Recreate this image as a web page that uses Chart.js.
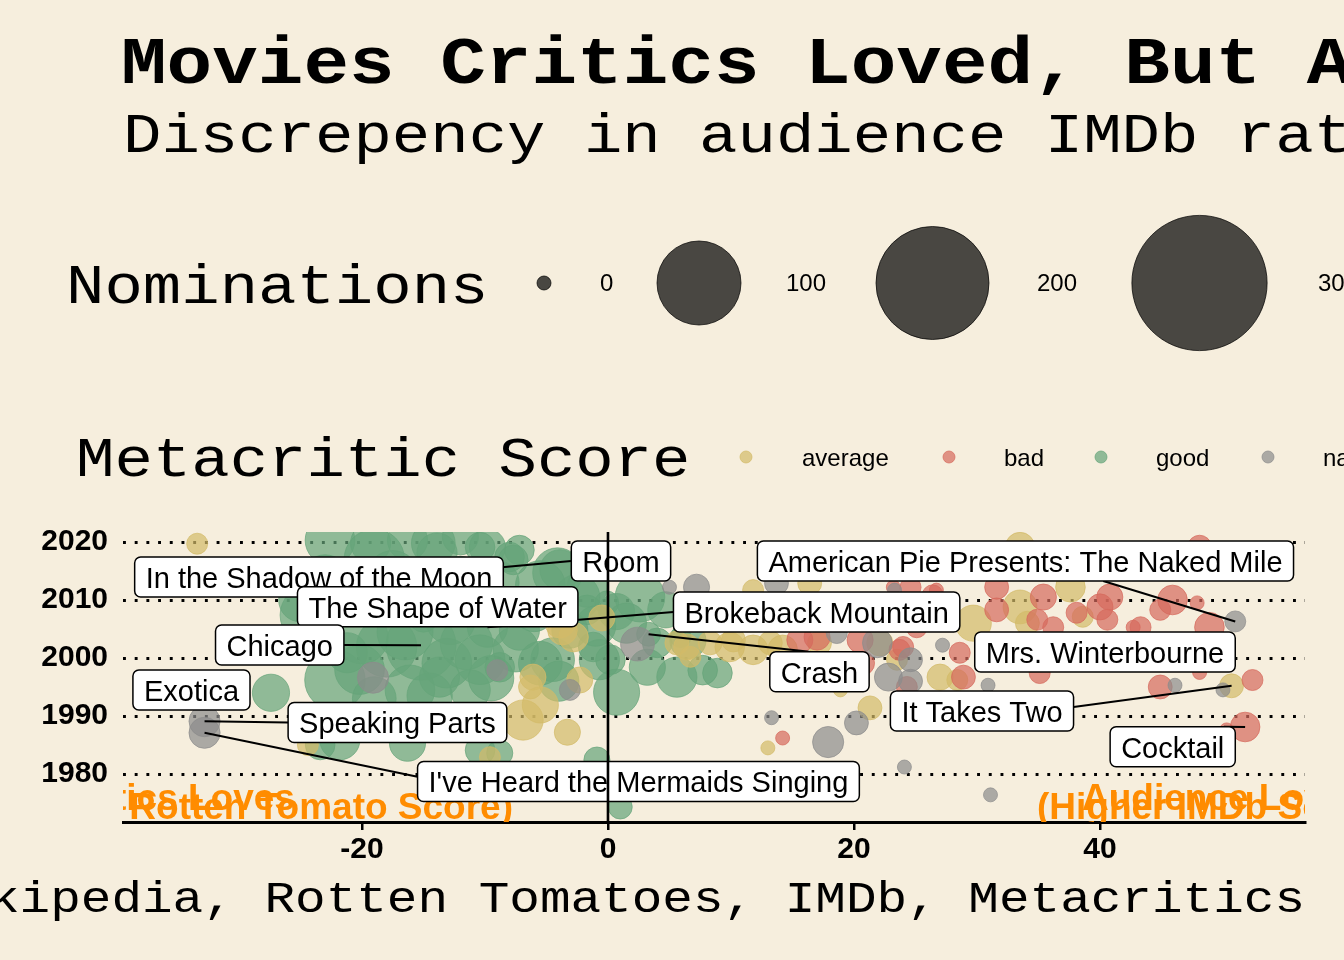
<!DOCTYPE html>
<html><head><meta charset="utf-8">
<script src="https://cdn.jsdelivr.net/npm/chart.js@4.4.0/dist/chart.umd.min.js"></script>
<style>html,body{margin:0;padding:0;background:#F6EEDD;overflow:hidden}canvas{display:block}</style>
</head><body><canvas id="c" width="1344" height="960"></canvas>
<script>
// ---------- DATA ----------
// x = IMDb score*10 - Rotten Tomato score, y = release year, n = nominations
const goodDiff = [-27.4,-24.2,-22.2,-22.6,-19.3,-16.3,-14.2,-12.0,-9.8,-8.0,-13.9,-10.4,-3.9,-12,-4.1,-1.7,0.7,2.6,-3.1,-1.7,-0.1,-1.2,0.2,-0.7,4.0,5.9,-4.5,-5.5,0.7,5.6,3.2,8.9,7.7,3.3,-15.2,-18.0,-21.2,-13.1,-10.4,-8.8,-13.7,-16.3,-21.8,-23.4,-10.4,-8.8,-0.9,1.0,-7.2,-7.7,-9.8,-15,-19,-12.8,-7.2,-20.2,-16.1,-11.2,4.7,
  -20.0,-16.5,-11.5,-7.5,-9.5,-14.5,-19.0,-4.0,-2.5,-5.5,-9.0,-17.5,-23.0,-25.0,-1.0,1.5,6.5,-6.0];
const goodYear = [1994.0,2007.4,1996.2,2020.3,2019.8,2020.3,2019.8,2020.9,2019.1,2017.4,2018.1,2019.1,2015.2,2015,2014.7,2012.2,2008.0,2010.5,2004.8,2008.3,2009.5,2001.9,1999.7,1999.7,2002.6,2003.6,1999.7,1999.1,1994.1,1996.7,1998.4,1997.4,1997.9,2004.1,2002.2,2001.9,2000.9,1999.1,1999.7,1998.4,1996.7,1985.3,1985.9,1985.0,1984.1,1983.6,1982.4,1974.3,2018.6,2016.9,2005.3,2007,2017,2006.6,2004.8,1998.0,1994.5,1994.5,2008.3,
  2003.5,2004.5,2002.5,2001.5,1996.5,1993.5,1993.0,1996.0,2010.5,2012.5,2013.0,2014.0,2013.5,2010.0,2005.5,2006.0,2003.0,2008.0];
const goodNoms = [11,44,44,26,14,14,18,10,10,5,14,5,14,5,26,14,10,26,10,5,2,5,5,14,5,1,18,18,21,14,10,5,5,2,64,44,14,26,26,5,14,10,14,5,5,3,3,2,5,5,14,5,44,26,14,26,26,14,10,
  30,36,30,20,20,20,18,14,20,26,18,30,26,18,14,14,10,14];

const avgDiff = [-33.4,-24.4,-0.5,-3.7,-3.9,-2.8,-2.3,-6.1,-6.3,-6.9,-5.5,-3.3,-9.6,5.6,6.4,6.7,8.3,10.2,9.9,11.8,13.2,14.2,11.8,16.4,17.2,22.1,23.5,18.9,21.3,13.0,33.5,33.5,37.6,34.1,29.7,27.0,28.4,38.6,50.7];
const avgYear = [2019.7,1985.0,2006.9,2004.8,2006.0,2003.6,1996.2,1996.7,1995.0,1989.3,1991.9,1987.2,1982.9,2002.6,2001.9,2000.2,2002.6,2003.1,2001.9,2001.4,2002.6,2001.4,2011.7,2012.9,2002.6,2002.6,1999.7,1994.5,1991.4,1984.5,2019.1,2008.8,2012.2,2006.0,2006.0,1996.7,1996.2,2007.1,1995.2];
const avgNoms = [1,1,3,5,5,5,3,3,2,14,10,3,1,2,3,1,2,2,5,5,2,5,1,2,2,3,1,0,2,0,5,8,5,2,10,3,1,1,2];

const badDiff = [14.2,15.6,17.0,20.5,24.0,20.7,23.2,24.6,26.7,25.1,23.7,24.3,28.6,28.9,31.6,31.6,35.4,34.9,36.2,38.1,40.0,40.6,40.8,35.1,45.9,44.9,47.9,48.9,43.3,48.1,48.1,44.9,52.4,51.8,50.3,42.7,26.4];
const badYear = [1986.2,2003.1,2003.6,2003.1,2001.9,1999.1,2012.2,2012.2,2011.7,2005.3,2001.4,1995.0,2000.9,1996.7,2012.2,2008.3,2010.5,2006.6,2005.3,2007.8,2008.8,2006.6,2010.5,1997.4,2010.0,2008.3,2009.5,2005.3,2005.3,2019.1,1997.5,1995.0,1996.2,1988.1,1987.6,2005.3,2010.8];
const badNoms = [0,3,3,3,1,2,0,1,0,1,1,1,1,2,2,2,3,1,1,1,3,1,3,1,5,1,0,5,1,2,0,2,1,5,0,0,1];

const naDiff = [-32.8,-32.8,-19.1,-9.0,-3.1,2.4,5.0,7.2,13.7,23.3,18.6,22.8,24.6,21.9,24.6,13.3,20.2,17.9,24.1,27.2,30.9,31.1,51.0,46.1,50.0];
const naYear = [1989.1,1987.1,1996.6,1997.9,1994.5,2002.4,2012.2,2012.2,2012.9,2011.7,2004.3,1996.7,1996.0,2002.6,1999.7,1989.7,1988.8,1985.5,1981.2,2002.2,1995.3,1976.4,2006.3,1995.3,1994.5];
const naNoms = [6,6,6,1,1,8,0,3,2,0,1,4,2,5,2,0,2,6,0,0,0,0,1,0,0];

const xTicks = [-20, 0, 20, 40];
const yTicks = [1980, 1990, 2000, 2010, 2020];
const sizeBreaks = [0, 100, 200, 300];
const scoreCategories = ['average', 'bad', 'good', 'na'];

const labelNames = ['In the Shadow of the Moon','Room','The Shape of Water','Chicago','Brokeback Mountain','Crash','Exotica','Speaking Parts',"I've Heard the Mermaids Singing",'American Pie Presents: The Naked Mile','Mrs. Winterbourne','It Takes Two','Cocktail'];
const labelX = [-15,-12,-19,-15.2,-9.8,3.3,-27.4,-32.8,-32.8,51.0,48.1,50.7,51.8];
const labelY = [2007,2015,2017,2002.2,2005.3,2004.1,1994.0,1989.1,1987.1,2006.3,1997.5,1995.2,1988.1];

// ---------- STYLE / LAYOUT ----------
const BG = '#F6EEDD';
const catRGB = {average:'211,186,104', bad:'213,105,93', good:'101,164,121', na:'140,140,140'};
const sizeFromNoms = n => 7 + 3.5 * Math.sqrt(n);
// label box centre offsets (px) from their point, and segment anchor on box
const labelLayout = [
  {dx:-104.5, dy:-40.4, a:null},
  {dx:160.6, dy:-10, a:[-1,0]},
  {dx:63.4, dy:47.3, a:null},
  {dx:-141.3, dy:-0.2, a:[1,0]},
  {dx:329.2, dy:-15.3, a:[-1,0]},
  {dx:170.9, dy:37.5, a:[-0.2,-1]},
  {dx:-79.5, dy:-2.8, a:null},
  {dx:192.9, dy:1.3, a:[-1,0]},
  {dx:433.9, dy:48.7, a:[-1,-0.24]},
  {dx:-209.8, dy:-60.5, a:[0.29,1]},
  {dx:-94.6, dy:-20.5, a:null},
  {dx:-249.6, dy:25.2, a:[1,-0.2]},
  {dx:-72.4, dy:19.7, a:[0.82,-1]}
];
const orangeNotes = [
  {text:'Critics Loves', x:-25.45, y:1973.8, align:'right'},
  {text:'(Higher Rotten Tomato Score)', x:-7.72, y:1972.2, align:'right'},
  {text:'Audience Loves', x:38.54, y:1973.8, align:'left'},
  {text:'(Higher IMDb Score)', x:34.88, y:1972.2, align:'left'}
];

function makeDS(label, xs, ys, ns, order) {
  const rgb = catRGB[label];
  return {
    label, order, clip: 0,
    data: xs.map((x, i) => ({x: x, y: ys[i], r: sizeFromNoms(ns[i])})),
    backgroundColor: `rgba(${rgb},0.7)`,
    borderColor: `rgba(${rgb},0.7)`,
    borderWidth: 1
  };
}

const mono = '"Liberation Mono", "Courier New", monospace';
const sans = '"Liberation Sans", Arial, sans-serif';

// monospace text squeezed vertically to approach Courier proportions
function monoText(c, txt, x, y, size, bold, align) {
  c.save();
  c.font = (bold ? 'bold ' : '') + size + 'px ' + mono;
  c.textAlign = align || 'left';
  c.textBaseline = 'alphabetic';
  c.fillStyle = '#000';
  c.translate(x, y);
  c.scale(1, 0.87);
  c.fillText(txt, 0, 0);
  c.restore();
}

const bgPlugin = {
  id: 'bg',
  beforeDraw(chart) {
    const c = chart.ctx;
    c.save(); c.fillStyle = BG; c.fillRect(0, 0, chart.width, chart.height); c.restore();
  }
};

const decorPlugin = {
  id: 'decor',
  afterDraw(chart) {
    const c = chart.ctx, xs = chart.scales.x, ys = chart.scales.y, a = chart.chartArea;
    // titles
    monoText(c, 'Movies Critics Loved, But Audiences Hated', 121, 83, 76, true);
    monoText(c, 'Discrepency in audience IMDb ratings vs critics Rotten Tomato scores', 123, 152, 64, false);
    // size legend
    monoText(c, 'Nominations', 66, 303, 64, false);
    c.save();
    const sizeCx = [544, 699, 932.5, 1199.5];
    const sizeLx = [600, 786, 1037, 1318];
    sizeBreaks.forEach((v, i) => {
      const r = sizeFromNoms(v);
      c.beginPath(); c.arc(sizeCx[i], 283, r, 0, Math.PI * 2);
      c.fillStyle = 'rgba(0,0,0,0.7)'; c.fill();
      c.lineWidth = 1; c.strokeStyle = 'rgba(0,0,0,0.7)'; c.stroke();
      c.fillStyle = '#000'; c.font = '24px ' + sans; c.textBaseline = 'middle'; c.textAlign = 'left';
      c.fillText(String(v), sizeLx[i], 284);
    });
    c.restore();
    // colour legend
    monoText(c, 'Metacritic Score', 76, 476, 64, false);
    c.save();
    const dotX = [746, 949, 1101, 1268];
    const txtX = [802, 1004, 1156, 1323];
    scoreCategories.forEach((k, i) => {
      c.beginPath(); c.arc(dotX[i], 457, 6, 0, Math.PI * 2);
      c.fillStyle = `rgba(${catRGB[k]},0.7)`; c.fill();
      c.strokeStyle = `rgba(${catRGB[k]},0.7)`; c.lineWidth = 1; c.stroke();
      c.fillStyle = '#000'; c.font = '24px ' + sans; c.textBaseline = 'middle'; c.textAlign = 'left';
      c.fillText(k, txtX[i], 459);
    });
    c.restore();
    // caption
    monoText(c, 'Source: Wikipedia, Rotten Tomatoes, IMDb, Metacritics', 1305, 912, 51, false, 'right');

    // inside panel (clipped)
    c.save();
    c.beginPath(); c.rect(a.left, a.top, a.right - a.left, a.bottom - a.top); c.clip();
    c.font = 'bold 37px ' + sans; c.fillStyle = '#FF8C00'; c.textBaseline = 'alphabetic';
    orangeNotes.forEach(o => {
      c.textAlign = o.align;
      c.fillText(o.text, xs.getPixelForValue(o.x), ys.getPixelForValue(o.y));
    });
    c.restore();

    // repel labels: segments first, then boxes
    c.save();
    c.font = '29px ' + sans;
    const boxes = labelNames.map((t, i) => {
      const px = xs.getPixelForValue(labelX[i]), py = ys.getPixelForValue(labelY[i]);
      const L = labelLayout[i];
      const w = c.measureText(t).width + 22, h = 40;
      return {t, px, py, cx: px + L.dx, cy: py + L.dy, w, h, a: L.a};
    });
    c.strokeStyle = '#000'; c.lineWidth = 2;
    boxes.forEach(b => {
      if (!b.a) return;
      c.beginPath(); c.moveTo(b.px, b.py);
      c.lineTo(b.cx + b.a[0] * b.w / 2, b.cy + b.a[1] * b.h / 2); c.stroke();
    });
    boxes.forEach(b => {
      const x0 = b.cx - b.w / 2, y0 = b.cy - b.h / 2;
      c.beginPath(); c.roundRect(x0, y0, b.w, b.h, 6);
      c.fillStyle = '#fff'; c.fill();
      c.lineWidth = 1.5; c.strokeStyle = '#000'; c.stroke();
      c.fillStyle = '#000'; c.textAlign = 'center'; c.textBaseline = 'alphabetic';
      c.fillText(b.t, b.cx, y0 + 31);
    });
    c.restore();

    // vertical zero line
    c.save();
    const zx = xs.getPixelForValue(0);
    c.strokeStyle = '#000'; c.lineWidth = 2.6;
    c.beginPath(); c.moveTo(zx, a.top); c.lineTo(zx, a.bottom); c.stroke();
    c.restore();
  }
};

new Chart(document.getElementById('c').getContext('2d'), {
  type: 'bubble',
  data: {
    datasets: [
      makeDS('na', naDiff, naYear, naNoms, 0),
      makeDS('bad', badDiff, badYear, badNoms, 1),
      makeDS('average', avgDiff, avgYear, avgNoms, 2),
      makeDS('good', goodDiff, goodYear, goodNoms, 3)
    ]
  },
  options: {
    responsive: false,
    animation: false,
    events: [],
    layout: {padding: {left: 0, right: 39, top: 532, bottom: 0}},
    plugins: {legend: {display: false}, tooltip: {enabled: false}, title: {display: false}},
    scales: {
      x: {
        type: 'linear', position: 'bottom', min: -39.43, max: 56.67,
        afterBuildTicks: s => { s.ticks = xTicks.map(v => ({value: v})); },
        afterFit: s => { s.height = 138; },
        grid: {drawOnChartArea: false, drawTicks: true, tickLength: 8, color: '#000', lineWidth: 2.5},
        border: {display: true, color: '#000', width: 3},
        ticks: {font: {family: sans, size: 30, weight: 'bold'}, color: '#000', padding: 2, maxRotation: 0, autoSkip: false,
                callback: v => String(v)}
      },
      y: {
        type: 'linear', position: 'left', min: 1971.72, max: 2021.72,
        afterBuildTicks: s => { s.ticks = yTicks.map(v => ({value: v})); },
        afterFit: s => { s.width = 123; },
        grid: {color: '#000', lineWidth: 2.9, drawTicks: false},
        border: {display: false, dash: [2.9, 8.8]},
        ticks: {font: {family: sans, size: 30, weight: 'bold'}, color: '#000', padding: 15, autoSkip: false,
                callback: v => String(v)}
      }
    }
  },
  plugins: [bgPlugin, decorPlugin]
});
</script></body></html>
